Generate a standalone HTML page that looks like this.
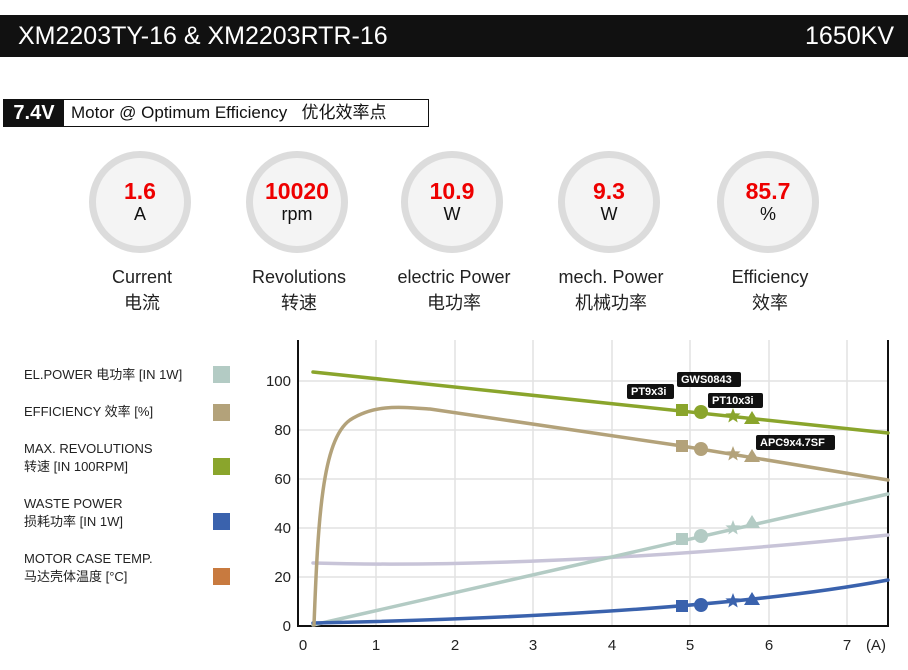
<!DOCTYPE html>
<html><head><meta charset="utf-8"><style>
body{margin:0;width:908px;height:670px;background:#fff;font-family:"Liberation Sans","Noto Sans CJK SC",sans-serif;position:relative;overflow:hidden}
.hdr{position:absolute;left:0;top:15px;width:908px;height:42px;background:#111;color:#fff;font-size:25px;line-height:42px}
.sub{position:absolute;left:3px;top:99px;width:424px;height:26px;border:1px solid #111;background:#fff}
.sub .v{position:absolute;left:0;top:0;width:60px;height:26px;background:#111;color:#fff;font-weight:bold;font-size:20px;line-height:26px;text-align:center}
.sub .t{position:absolute;left:67px;top:0;font-size:17px;line-height:26px;color:#111}
.c{position:absolute;width:88px;height:88px;border:7px solid #dcdcdc;border-radius:50%;background:#f4f4f4;text-align:center}
.c b{display:block;color:#e00;font-size:23px;margin-top:20px;line-height:26px}
.c span{display:block;font-size:18px;line-height:20px;color:#111}
.lab{position:absolute;width:160px;text-align:center;font-size:18px;line-height:26px;color:#222}
.lg{position:absolute;left:24px;font-size:13px;line-height:18px;color:#222}
.sw{position:absolute;left:213px;width:17px;height:17px}
</style></head><body>
<div class="hdr"><span style="position:absolute;left:18px">XM2203TY-16 &amp; XM2203RTR-16</span><span style="position:absolute;right:14px">1650KV</span></div>
<div class="sub"><div class="v">7.4V</div><div class="t">Motor @ Optimum Efficiency &nbsp;&nbsp;优化效率点</div></div>

<div class="c" style="left:89px;top:151px"><b>1.6</b><span>A</span></div>
<div class="c" style="left:246px;top:151px"><b>10020</b><span>rpm</span></div>
<div class="c" style="left:401px;top:151px"><b>10.9</b><span>W</span></div>
<div class="c" style="left:558px;top:151px"><b>9.3</b><span>W</span></div>
<div class="c" style="left:717px;top:151px"><b>85.7</b><span>%</span></div>
<div class="lab" style="left:62px;top:264px">Current<br>电流</div>
<div class="lab" style="left:219px;top:264px">Revolutions<br>转速</div>
<div class="lab" style="left:374px;top:264px">electric Power<br>电功率</div>
<div class="lab" style="left:531px;top:264px">mech. Power<br>机械功率</div>
<div class="lab" style="left:690px;top:264px">Efficiency<br>效率</div>

<div class="lg" style="top:366px">EL.POWER 电功率 [IN 1W]</div><div class="sw" style="top:366px;background:#b3cbc4"></div>
<div class="lg" style="top:403px">EFFICIENCY 效率 [%]</div><div class="sw" style="top:404px;background:#b3a27a"></div>
<div class="lg" style="top:440px">MAX. REVOLUTIONS<br>转速 [IN 100RPM]</div><div class="sw" style="top:458px;background:#8aa52c"></div>
<div class="lg" style="top:495px">WASTE POWER<br>损耗功率 [IN 1W]</div><div class="sw" style="top:513px;background:#3a62ad"></div>
<div class="lg" style="top:550px">MOTOR CASE TEMP.<br>马达壳体温度 [°C]</div><div class="sw" style="top:568px;background:#c87a3f"></div>

<svg style="position:absolute;left:0;top:0" width="908" height="670">
<defs><polygon id="st" points="0,-8 2,-2.75 7.61,-2.47 3.23,1.05 4.7,6.47 0,3.4 -4.7,6.47 -3.23,1.05 -7.61,-2.47 -2,-2.75"/></defs>
<g stroke="#e2e2e2" stroke-width="1.5">
<line x1="376" y1="340" x2="376" y2="626"/><line x1="455" y1="340" x2="455" y2="626"/><line x1="533" y1="340" x2="533" y2="626"/><line x1="612" y1="340" x2="612" y2="626"/><line x1="690" y1="340" x2="690" y2="626"/><line x1="769" y1="340" x2="769" y2="626"/><line x1="847" y1="340" x2="847" y2="626"/>
<line x1="298" y1="577" x2="888" y2="577"/><line x1="298" y1="528" x2="888" y2="528"/><line x1="298" y1="479" x2="888" y2="479"/><line x1="298" y1="430" x2="888" y2="430"/><line x1="298" y1="381" x2="888" y2="381"/>
</g>
<path d="M298 340 V626 H888 V340" fill="none" stroke="#111" stroke-width="2"/>
<g font-size="15" fill="#222" text-anchor="end">
<text x="291" y="631">0</text><text x="291" y="582">20</text><text x="291" y="533">40</text><text x="291" y="484">60</text><text x="291" y="435">80</text><text x="291" y="386">100</text>
</g>
<g font-size="15" fill="#222" text-anchor="middle">
<text x="303" y="650">0</text><text x="376" y="650">1</text><text x="455" y="650">2</text><text x="533" y="650">3</text><text x="612" y="650">4</text><text x="690" y="650">5</text><text x="769" y="650">6</text><text x="847" y="650">7</text><text x="876" y="650">(A)</text>
</g>
<g fill="none" stroke-width="3.5" stroke-linecap="round">
<path d="M313 563 C450 567 650 560 888 535" stroke="#c8c4d8"/>
<path d="M313 625 L888 494" stroke="#b3cbc4"/>
<path d="M313 623 Q700 615 888 580" stroke="#3a62ad"/>
<path d="M313 372 L888 433" stroke="#8aa52c"/>
<path d="M314 625 C318 520 322 440 350 420 C375 404 400 407 430 409 L682 446 L888 480" stroke="#b3a27a"/>
</g>
<g fill="#8aa52c"><rect x="676" y="404" width="12" height="12"/><circle cx="701" cy="412" r="7"/><use href="#st" x="733" y="416"/><polygon points="752,411 760,424 744,424"/></g>
<g fill="#b3a27a"><rect x="676" y="440" width="12" height="12"/><circle cx="701" cy="449" r="7"/><use href="#st" x="733" y="454"/><polygon points="752,449 760,462 744,462"/></g>
<g fill="#b3cbc4"><rect x="676" y="533" width="12" height="12"/><circle cx="701" cy="536" r="7"/><use href="#st" x="733" y="528"/><polygon points="752,515 760,528 744,528"/></g>
<g fill="#3a62ad"><rect x="676" y="600" width="12" height="12"/><circle cx="701" cy="605" r="7"/><use href="#st" x="733" y="601"/><polygon points="752,592 760,605 744,605"/></g>
<g font-size="11" font-weight="bold" fill="#fff">
<rect x="627" y="384" width="47" height="15" rx="2" fill="#111"/><text x="631" y="395">PT9x3i</text>
<rect x="677" y="372" width="64" height="15" rx="2" fill="#111"/><text x="681" y="383">GWS0843</text>
<rect x="708" y="393" width="55" height="15" rx="2" fill="#111"/><text x="712" y="404">PT10x3i</text>
<rect x="756" y="435" width="79" height="15" rx="2" fill="#111"/><text x="760" y="446">APC9x4.7SF</text>
</g>
</svg>
</body></html>
